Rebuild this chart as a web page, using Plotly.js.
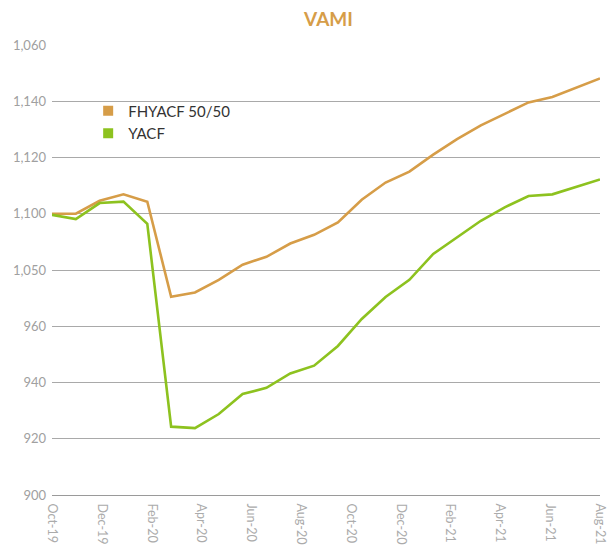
<!DOCTYPE html>
<html>
<head>
<meta charset="utf-8">
<script src="https://cdn.plot.ly/plotly-3.0.1.min.js"></script>
<style>
html,body{margin:0;padding:0;background:#fff;}
#chart{width:614px;height:547px;}
</style>
</head>
<body>
<div id="chart"></div>
<script>
// Monthly VAMI points (24 observations)
const fhyacf = [1000.0, 1000.0, 1004.6, 1006.9, 1004.3, 970.5, 972.0, 976.5, 981.9, 984.7, 989.4, 992.5,
                996.9, 1005.0, 1011.1, 1015.0, 1021.0, 1026.5, 1031.4, 1035.6, 1039.6, 1041.5, 1044.9, 1048.1];
const yacf   = [999.6, 998.1, 1003.8, 1004.3, 996.4, 924.3, 923.8, 928.8, 935.9, 938.1, 943.2, 946.0,
                953.0, 962.6, 970.4, 976.5, 985.7, 991.5, 997.5, 1002.3, 1006.3, 1006.9, 1009.5, 1012.2];
const xLabels = ["Oct-19","Dec-19","Feb-20","Apr-20","Jun-20","Aug-20","Oct-20","Dec-20","Feb-21","Apr-21","Jun-21","Aug-21"];
const yTickVals = [900, 920, 940, 960, 980, 1000, 1020, 1040, 1060];
const yTickText = ["900", "920", "940", "960", "1,050", "1,100", "1,120", "1,140", "1,060"];
const seriesNames = ["FHYACF 50/50", "YACF"];
const colors = ["#D69D48", "#8DC21F"];

const n = fhyacf.length;
const xIdx = fhyacf.map((_, i) => i);
const tickVals = xLabels.map((_, i) => i * (n - 1) / (xLabels.length - 1));

const traces = [
  {x: xIdx, y: fhyacf, mode: 'lines', line: {color: colors[0], width: 2.6}, showlegend: false, hoverinfo: 'skip'},
  {x: xIdx, y: yacf, mode: 'lines', line: {color: colors[1], width: 2.6}, showlegend: false, hoverinfo: 'skip'},
  {x: [null], y: [null], mode: 'markers', name: seriesNames[0], marker: {symbol: 'square', size: 10, color: colors[0]}},
  {x: [null], y: [null], mode: 'markers', name: seriesNames[1], marker: {symbol: 'square', size: 10, color: colors[1]}}
];

const layout = {
  width: 614, height: 547,
  margin: {l: 52, r: 14, t: 45, b: 52},
  paper_bgcolor: '#fff', plot_bgcolor: '#fff',
  font: {family: 'Lato, "Open Sans", sans-serif'},
  title: {text: '<b>VAMI</b>', x: 0.535, xanchor: 'center', y: 0.965, yanchor: 'middle',
          font: {size: 19, color: '#D69D48', family: 'Lato, sans-serif'}},
  xaxis: {
    range: [0, n - 1], tickmode: 'array', tickvals: tickVals, ticktext: xLabels,
    tickangle: 90, showgrid: false, zeroline: false,
    showline: true, linecolor: '#9A9A9A', linewidth: 1,
    ticks: '', tickfont: {size: 12.5, color: '#ABABAB'}, ticklabelstandoff: 5
  },
  yaxis: {
    range: [900, 1060], tickmode: 'array', tickvals: yTickVals, ticktext: yTickText,
    showgrid: true, gridcolor: '#A9A9A9', gridwidth: 1, zeroline: false,
    showline: false, ticks: '', tickfont: {size: 13, color: '#A0A0A0'}, ticklabelstandoff: 5
  },
  legend: {x: 0.066, y: 0.89, xanchor: 'left', yanchor: 'top', bgcolor: 'rgba(0,0,0,0)',
           font: {size: 15, color: '#333'}, tracegroupgap: 0, itemwidth: 30},
  showlegend: true
};

Plotly.newPlot('chart', traces, layout, {staticPlot: true, displayModeBar: false});
</script>
</body>
</html>
